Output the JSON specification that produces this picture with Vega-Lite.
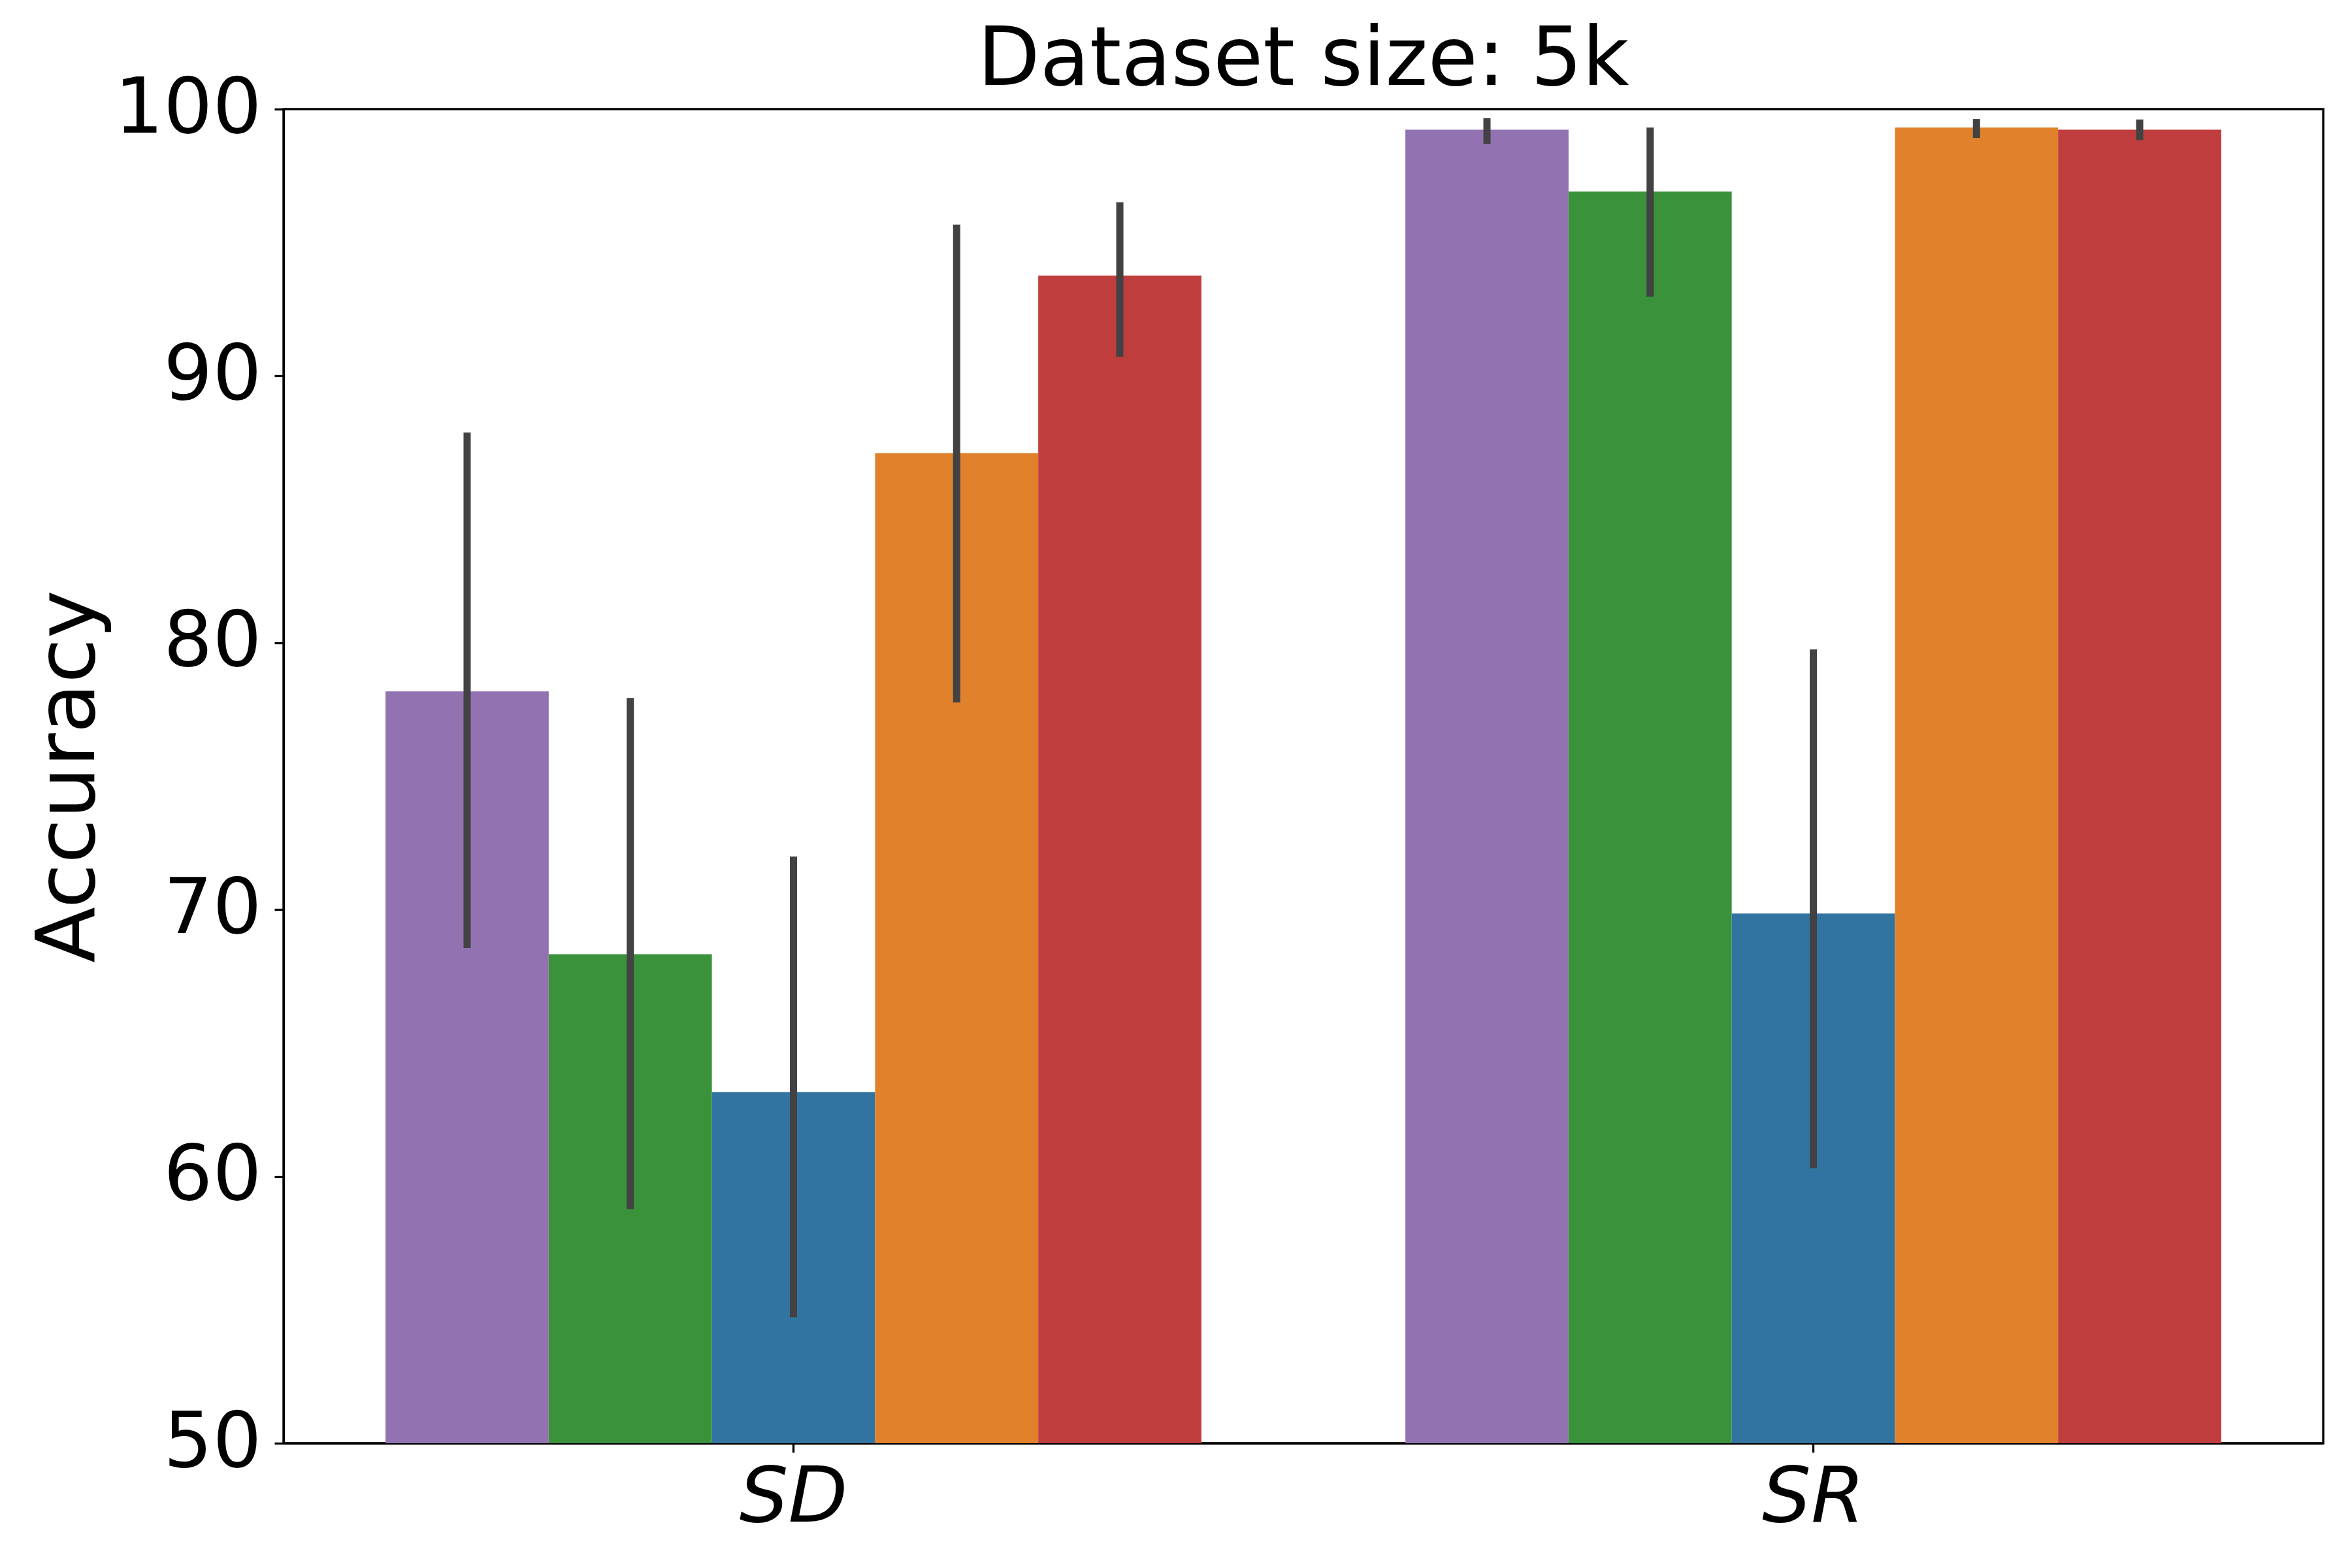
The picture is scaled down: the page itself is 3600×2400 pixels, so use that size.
{
  "$schema": "https://vega.github.io/schema/vega-lite/v6.json",
  "autosize": "none",
  "width": 3122,
  "height": 2042,
  "padding": {"left": 434, "top": 167, "right": 44, "bottom": 191},
  "background": "white",
  "title": {"text": "Dataset size: 5k", "fontSize": 124, "font": "DejaVu Sans", "fontWeight": "normal", "color": "black", "anchor": "middle", "offset": -48},
  "config": {
    "view": {"stroke": "black", "strokeWidth": 3.3},
    "axis": {"grid": false, "domainColor": "black", "domainWidth": 3.3, "tickColor": "black", "tickWidth": 3.3, "tickSize": 14, "labelColor": "black", "labelFont": "DejaVu Sans", "labelFontSize": 118, "labelLimit": 1000, "titleFont": "DejaVu Sans", "titleColor": "black", "titleFontWeight": "normal"}
  },
  "data": {"values": [
    {"group": "SD", "method": "m1", "acc": 78.18, "lo": 68.56, "hi": 87.88},
    {"group": "SD", "method": "m2", "acc": 68.33, "lo": 58.77, "hi": 77.93},
    {"group": "SD", "method": "m3", "acc": 63.16, "lo": 54.72, "hi": 71.99},
    {"group": "SD", "method": "m4", "acc": 87.11, "lo": 77.76, "hi": 95.67},
    {"group": "SD", "method": "m5", "acc": 93.76, "lo": 90.72, "hi": 96.51},
    {"group": "SR", "method": "m1", "acc": 99.23, "lo": 98.70, "hi": 99.66},
    {"group": "SR", "method": "m2", "acc": 96.91, "lo": 92.97, "hi": 99.31},
    {"group": "SR", "method": "m3", "acc": 69.85, "lo": 60.30, "hi": 79.75},
    {"group": "SR", "method": "m4", "acc": 99.31, "lo": 98.92, "hi": 99.63},
    {"group": "SR", "method": "m5", "acc": 99.23, "lo": 98.84, "hi": 99.61}
  ]},
  "encoding": {
    "x": {"field": "group", "type": "nominal", "scale": {"paddingInner": 0.2, "paddingOuter": 0.1},
          "axis": {"title": null, "labelAngle": 0, "labelFontStyle": "italic", "labelPadding": 12}},
    "xOffset": {"field": "method", "type": "nominal", "sort": ["m1", "m2", "m3", "m4", "m5"], "scale": {"paddingInner": 0, "paddingOuter": 0}}
  },
  "layer": [
    {
      "mark": {"type": "bar", "clip": true},
      "encoding": {
        "y": {"field": "acc", "type": "quantitative", "scale": {"domain": [50, 100], "nice": false, "zero": false},
              "axis": {"title": "Accuracy", "titleFontSize": 125, "values": [50, 60, 70, 80, 90, 100], "labelPadding": 20, "titlePadding": 65}},
        "color": {"field": "method", "type": "nominal", "legend": null,
                  "scale": {"domain": ["m1", "m2", "m3", "m4", "m5"], "range": ["#9372b2", "#3a923a", "#3274a1", "#e1812c", "#c03d3e"]}}
      }
    },
    {
      "mark": {"type": "rule", "color": "#424242", "strokeWidth": 11},
      "encoding": {
        "y": {"field": "lo", "type": "quantitative"},
        "y2": {"field": "hi"}
      }
    }
  ]
}
